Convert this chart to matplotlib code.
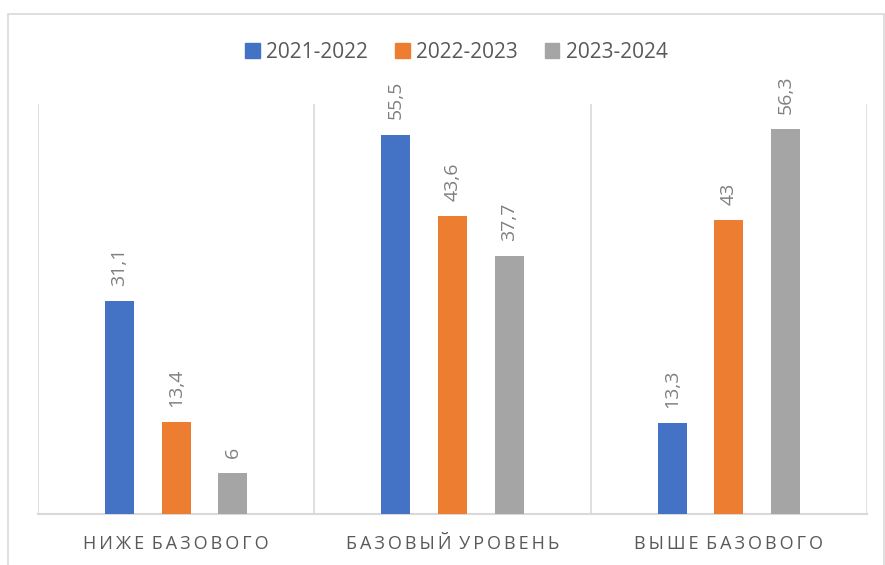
import matplotlib.pyplot as plt
from matplotlib.patches import Rectangle, Patch

# data
categories = ["НИЖЕ БАЗОВОГО", "БАЗОВЫЙ УРОВЕНЬ", "ВЫШЕ БАЗОВОГО"]
series_names = ["2021-2022", "2022-2023", "2023-2024"]
values_2122 = [31.1, 55.5, 13.3]
values_2223 = [13.4, 43.6, 43.0]
values_2324 = [6.0, 37.7, 56.3]
series_values = [values_2122, values_2223, values_2324]
colors = ["#4472C4", "#ED7D31", "#A5A5A5"]

plt.rcParams['font.family'] = ['Open Sans', 'DejaVu Sans']

fig = plt.figure(figsize=(8.85, 5.65), dpi=100)
ax = fig.add_axes([38 / 885, 1 - 514 / 565, (867 - 38) / 885, (514 - 104) / 565])

# chart border
fig.patches.append(Rectangle((8 / 885, -0.05), (884 - 8) / 885, 1 - 14 / 565 + 0.05,
                             transform=fig.transFigure, fill=False,
                             edgecolor="#d9d9d9", linewidth=1.2))

step = 0.205
width = 0.106
for j, (vals, col) in enumerate(zip(series_values, colors)):
    xs = [i + (j - 1) * step for i in range(len(categories))]
    ax.bar(xs, vals, width=width, color=col, zorder=3)
    for x, v in zip(xs, vals):
        txt = ("%g" % v).replace(".", ",")
        ax.annotate(txt, (x, v), xytext=(0, 11), textcoords="offset points",
                    rotation=90, ha="center", va="bottom",
                    fontsize=14, color="#7f7f7f")

ax.set_xlim(-0.5, 2.5)
ax.set_ylim(0, 60)
ax.set_yticks([])

# vertical separators between categories
for b in [-0.5, 0.5, 1.5, 2.5]:
    ax.axvline(b, color="#d9d9d9", linewidth=1.2, zorder=1)

for s in ["top", "right", "left"]:
    ax.spines[s].set_visible(False)
ax.spines["bottom"].set_color("#d9d9d9")
ax.spines["bottom"].set_linewidth(1.5)

spaced = ["\u2009".join(list(c)).replace("\u2009 \u2009", " \u2009") for c in categories]
ax.set_xticks(range(len(categories)))
ax.set_xticklabels(spaced, fontsize=13, color="#595959")
ax.tick_params(axis="x", length=0, pad=15)

handles = [Patch(facecolor=c, edgecolor=c) for c in colors]
fig.legend(handles, series_names, loc="center", bbox_to_anchor=(0.5 + 14 / 885, 1 - 52 / 565),
           ncol=3, frameon=False, fontsize=15, labelcolor="#595959",
           handlelength=0.7, handleheight=0.7, handletextpad=0.3, columnspacing=1.3)

plt.savefig("out.png", dpi=100)
